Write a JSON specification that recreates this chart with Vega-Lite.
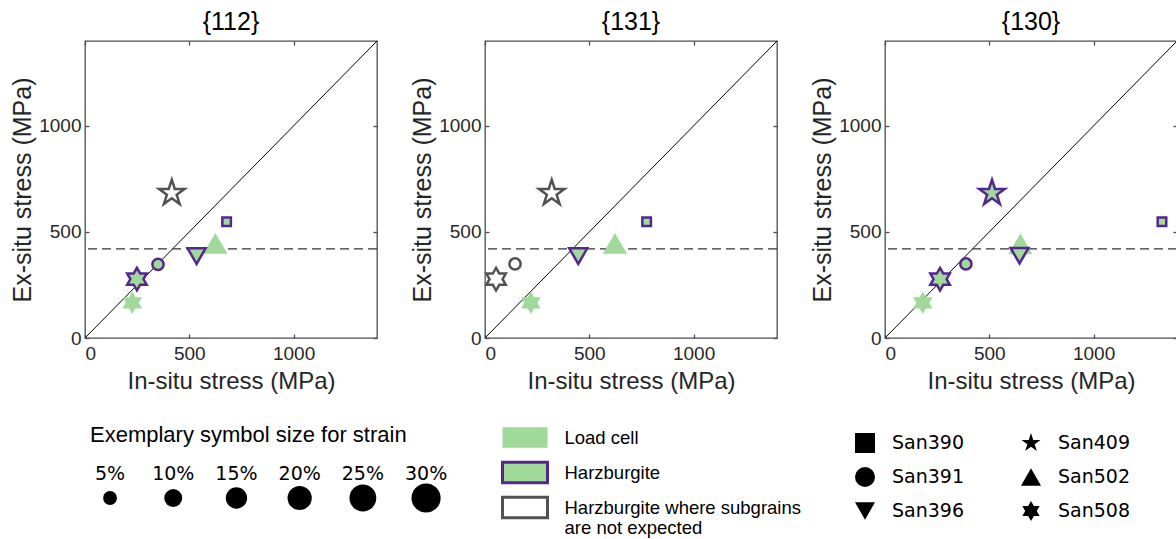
{
  "$schema": "https://vega.github.io/schema/vega-lite/v6.json",
  "padding": {"left": 10, "top": 10, "right": 0, "bottom": 0},
  "spacing": 29,
  "datasets": {
    "points": [
      {"panel": "{112}", "sample": "San502", "type": "Load cell", "insitu": 625, "exsitu": 446, "strain": 20},
      {"panel": "{112}", "sample": "San508", "type": "Load cell", "insitu": 227, "exsitu": 166, "strain": 17},
      {"panel": "{112}", "sample": "San409", "type": "Harzburgite where subgrains are not expected", "insitu": 416, "exsitu": 683, "strain": 25},
      {"panel": "{112}", "sample": "San390", "type": "Harzburgite", "insitu": 679, "exsitu": 548, "strain": 0.5},
      {"panel": "{112}", "sample": "San396", "type": "Harzburgite", "insitu": 535, "exsitu": 386, "strain": 10},
      {"panel": "{112}", "sample": "San391", "type": "Harzburgite", "insitu": 350, "exsitu": 347, "strain": 2.5},
      {"panel": "{112}", "sample": "San508", "type": "Harzburgite", "insitu": 249, "exsitu": 278, "strain": 17},
      {"panel": "{131}", "sample": "San502", "type": "Load cell", "insitu": 623, "exsitu": 446, "strain": 20},
      {"panel": "{131}", "sample": "San508", "type": "Load cell", "insitu": 220, "exsitu": 166, "strain": 17},
      {"panel": "{131}", "sample": "San409", "type": "Harzburgite where subgrains are not expected", "insitu": 320, "exsitu": 683, "strain": 25},
      {"panel": "{131}", "sample": "San390", "type": "Harzburgite", "insitu": 775, "exsitu": 548, "strain": 0.5},
      {"panel": "{131}", "sample": "San396", "type": "Harzburgite", "insitu": 447, "exsitu": 386, "strain": 10},
      {"panel": "{131}", "sample": "San391", "type": "Harzburgite where subgrains are not expected", "insitu": 144, "exsitu": 349, "strain": 2.5},
      {"panel": "{131}", "sample": "San508", "type": "Harzburgite where subgrains are not expected", "insitu": 53, "exsitu": 277, "strain": 17},
      {"panel": "{130}", "sample": "San502", "type": "Load cell", "insitu": 649, "exsitu": 444, "strain": 20},
      {"panel": "{130}", "sample": "San508", "type": "Load cell", "insitu": 181, "exsitu": 166, "strain": 17},
      {"panel": "{130}", "sample": "San409", "type": "Harzburgite", "insitu": 513, "exsitu": 683, "strain": 25},
      {"panel": "{130}", "sample": "San390", "type": "Harzburgite", "insitu": 1328, "exsitu": 548, "strain": 0.5},
      {"panel": "{130}", "sample": "San396", "type": "Harzburgite", "insitu": 645, "exsitu": 388, "strain": 10},
      {"panel": "{130}", "sample": "San391", "type": "Harzburgite", "insitu": 388, "exsitu": 349, "strain": 2.5},
      {"panel": "{130}", "sample": "San508", "type": "Harzburgite", "insitu": 264, "exsitu": 277, "strain": 17}
    ],
    "strainkey": [
      {"strain": 5, "label": "5%"},
      {"strain": 10, "label": "10%"},
      {"strain": 15, "label": "15%"},
      {"strain": 20, "label": "20%"},
      {"strain": 25, "label": "25%"},
      {"strain": 30, "label": "30%"}
    ]
  },
  "vconcat": [
    {
      "data": {"name": "points"},
      "facet": {
        "column": {
          "field": "panel", "type": "nominal", "sort": ["{112}", "{131}", "{130}"],
          "header": {"title": null, "labelFontSize": 25, "labelFont": "Liberation Sans", "labelColor": "black", "labelPadding": 6}
        }
      },
      "spacing": 108,
      "bounds": "flush",
      "resolve": {"axis": {"x": "independent", "y": "independent"}},
      "spec": {
        "width": 292,
        "height": 297,
        "resolve": {"axis": {"x": "independent", "y": "independent"}},
        "layer": [
          {
            "transform": [{"aggregate": [{"op": "count", "as": "n"}], "groupby": ["panel"]}],
            "mark": {"type": "rule", "color": "black", "strokeWidth": 1},
            "encoding": {
              "x": {"datum": 0, "type": "quantitative",
                    "scale": {"domain": [0, 1400], "nice": false, "zero": true},
                    "axis": {"orient": "bottom", "title": "In-situ stress (MPa)", "values": [0, 500, 1000], "format": "d", "tickSize": -4, "labelPadding": 10.5, "titlePadding": 6, "titleFontSize": 24}},
              "y": {"datum": 0, "type": "quantitative",
                    "scale": {"domain": [0, 1400], "nice": false, "zero": true},
                    "axis": {"orient": "left", "title": "Ex-situ stress (MPa)", "values": [0, 500, 1000], "format": "d", "tickSize": -4, "labelPadding": 8, "titlePadding": 3, "titleFontSize": 25}},
              "x2": {"datum": 1400},
              "y2": {"datum": 1400}
            }
          },
          {
            "transform": [{"aggregate": [{"op": "count", "as": "n"}], "groupby": ["panel"]}],
            "mark": {"type": "rule", "color": "#333333", "strokeWidth": 1.2, "strokeDash": [9, 5]},
            "encoding": {
              "y": {"datum": 420, "type": "quantitative",
                    "axis": {"orient": "right", "values": [0, 500, 1000], "tickSize": -4, "labels": false, "title": null}}
            }
          },
          {
            "mark": {"type": "point", "strokeWidth": 2.5, "opacity": 1, "fillOpacity": 1, "strokeOpacity": 1, "filled": true},
            "encoding": {
              "x": {
                "field": "insitu", "type": "quantitative",
                "axis": {"orient": "top", "values": [0, 500, 1000], "tickSize": -4, "labels": false, "title": null}
              },
              "y": {
                "field": "exsitu", "type": "quantitative", "axis": null
              },
              "shape": {
                "field": "sample", "type": "nominal",
                "scale": {
                  "domain": ["San390", "San391", "San396", "San409", "San502", "San508"],
                  "range": [
                    "square",
                    "circle",
                    "triangle-down",
                    "M0,-1L0.2245,-0.309L0.9511,-0.309L0.3633,0.118L0.5878,0.809L0,0.382L-0.5878,0.809L-0.3633,0.118L-0.9511,-0.309L-0.2245,-0.309Z",
                    "triangle-up",
                    "M0,-1L0.2887,-0.5L0.866,-0.5L0.5774,0L0.866,0.5L0.2887,0.5L0,1L-0.2887,0.5L-0.866,0.5L-0.5774,0L-0.866,-0.5L-0.2887,-0.5Z"
                  ]
                },
                "legend": {
                  "orient": "none", "legendX": 770, "legendY": 392, "title": null, "columns": 2,
                  "symbolSize": 400, "symbolFillColor": "black", "symbolStrokeColor": "black", "symbolStrokeWidth": 0,
                  "labelOffset": 17, "rowPadding": 14, "columnPadding": 56, "padding": 0,
                  "labelFont": "DejaVu Sans", "labelFontSize": 19, "labelColor": "black"
                }
              },
              "fill": {
                "field": "type", "type": "nominal",
                "scale": {"domain": ["Load cell", "Harzburgite", "Harzburgite where subgrains are not expected"], "range": ["#a1d99b", "#a1d99b", "white"]},
                "legend": {
                  "orient": "none", "legendX": 416.5, "legendY": 383, "title": null,
                  "symbolType": "M-1.875,-0.85H1.875V0.85H-1.875Z", "symbolSize": 576, "symbolStrokeWidth": 3, "symbolOffset": 10,
                  "labelOffset": 26, "rowPadding": 2, "padding": 0, "labelLimit": 400,
                  "labelFont": "Liberation Sans", "labelFontSize": 18.5, "labelColor": "black",
                  "labelExpr": "datum.label == 'Harzburgite where subgrains are not expected' ? ['Harzburgite where subgrains', 'are not expected'] : datum.label"
                }
              },
              "stroke": {
                "field": "type", "type": "nominal",
                "scale": {"domain": ["Load cell", "Harzburgite", "Harzburgite where subgrains are not expected"], "range": ["transparent", "#54278f", "#525252"]},
                "legend": {
                  "orient": "none", "legendX": 416.5, "legendY": 383, "title": null,
                  "symbolType": "M-1.875,-0.85H1.875V0.85H-1.875Z", "symbolSize": 576, "symbolStrokeWidth": 3, "symbolOffset": 10,
                  "labelOffset": 26, "rowPadding": 2, "padding": 0, "labelLimit": 400,
                  "labelFont": "Liberation Sans", "labelFontSize": 18.5, "labelColor": "black",
                  "labelExpr": "datum.label == 'Harzburgite where subgrains are not expected' ? ['Harzburgite where subgrains', 'are not expected'] : datum.label"
                }
              },
              "size": {
                "field": "strain", "type": "quantitative",
                "scale": {"domain": [0, 30], "range": [60, 850], "zero": false},
                "legend": null
              }
            }
          }
        ]
      }
    },
    {
      "data": {"name": "strainkey"},
      "width": 379,
      "height": 40,
      "view": {"stroke": null},
      "title": {"text": "Exemplary symbol size for strain", "anchor": "start", "fontSize": 22, "font": "Liberation Sans", "fontWeight": "normal", "color": "black", "dx": 5, "offset": 1, "baseline": "alphabetic"},
      "layer": [
        {
          "mark": {"type": "circle", "color": "black", "opacity": 1},
          "encoding": {
            "x": {"field": "strain", "type": "quantitative", "scale": {"domain": [3.02, 33.0], "nice": false, "zero": false}, "axis": null},
            "size": {"field": "strain", "type": "quantitative", "scale": {"domain": [0, 30], "range": [60, 850], "zero": false}, "legend": null}
          }
        },
        {
          "mark": {"type": "text", "dy": -24, "fontSize": 19, "font": "DejaVu Sans", "color": "black"},
          "encoding": {
            "x": {"field": "strain", "type": "quantitative", "scale": {"domain": [3.02, 33.0], "nice": false, "zero": false}, "axis": null},
            "text": {"field": "label"}
          }
        }
      ]
    }
  ],
  "config": {
    "font": "Liberation Sans",
    "view": {"stroke": "#4d4d4d", "strokeWidth": 1.3},
    "axis": {"grid": false, "domain": false, "tickColor": "#4d4d4d", "tickWidth": 1.3, "labelColor": "#262626", "titleColor": "#262626", "labelFont": "Liberation Sans", "titleFont": "Liberation Sans", "titleFontWeight": "normal", "labelFontSize": 19}
  }
}
